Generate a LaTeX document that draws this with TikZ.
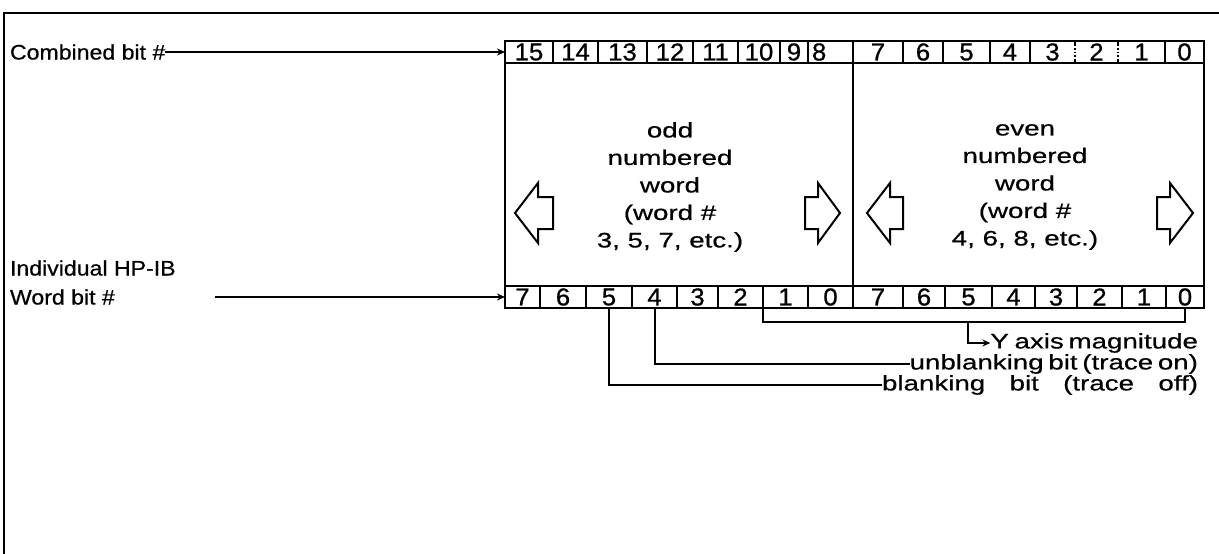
\documentclass[tikz,border=0pt]{standalone}
\usepackage{fontspec}
\setmainfont{Liberation Sans}[FakeStretch=1.1,FakeBold=0.6]
\newfontfamily\widefont{Liberation Sans}[FakeStretch=1.32,FakeBold=0.6]
\newfontfamily\digitfont{Liberation Sans}[FakeStretch=1.05,FakeBold=0.8]
\usetikzlibrary{arrows.meta}
\begin{document}
\begin{tikzpicture}[x=1pt,y=-1pt,
  every node/.style={inner sep=0pt, outer sep=0pt},
  lbl/.style={font=\fontsize{21}{27.5}\selectfont},
  wlbl/.style={font=\widefont\fontsize{21}{27.5}\selectfont},
  cell/.style={draw, line width=2.3pt, minimum height=22pt, font=\digitfont\fontsize{24.5}{27.5}\selectfont, anchor=west},
  wordbox/.style={draw, line width=2.5pt, anchor=north west, minimum height=267pt},
  conn/.style={line width=2pt},
  tipped/.style={-{Stealth[length=8pt,width=7pt]}},
  blk/.style={line width=2pt, line join=miter, fill=white},
]
\useasboundingbox (0,0) rectangle (1219,554);
% outer frame
\draw[line width=2.2pt] (1225,13) -- (4,13) -- (4,560);
% word boxes
\node[wordbox, minimum width=348pt] (oddw) at (505,41) {};
\node[wordbox, minimum width=351pt] (evenw) at (853,41) {};
% top row cells
\foreach \a/\b/\t/\n in {505/553/15/t15, 553/598/14/t14, 598/647/13/t13, 647/693/12/t12,
  693/738/11/t11, 738/780/10/t10, 780/808/9/t9, 808/853//t8,
  853/903/7/t7, 903/943/6/t6, 943/990/5/t5, 990/1030/4/t4,
  1030/1075/3/t3, 1075/1118/2/t2, 1118/1165/1/t1, 1165/1204/0/t0}{
  \pgfmathsetmacro\w{\b-\a}
  \node[cell, minimum width=\w pt] (\n) at (\a,52) {\t};
}
\node[cell, draw=none, minimum width=0pt] (d8) at (812,52) {8};
% broken borders in the printed original
\draw[white, line width=3pt] (1075,44) -- (1075,60) (1118,44) -- (1118,60);
\draw[line width=1.8pt, dotted] (1075,44) -- (1075,60) (1118,44) -- (1118,60);
% bottom row cells
\foreach \a/\b/\t/\n in {505/540/7/lo7, 540/586/6/lo6, 586/632/5/lo5, 632/677/4/lo4,
  677/718/3/lo3, 718/763/2/lo2, 763/808/1/lo1, 808/853/0/lo0,
  853/903/7/ro7, 903/945/6/ro6, 945/992/5/ro5, 992/1035/4/ro4,
  1035/1077/3/ro3, 1077/1122/2/ro2, 1122/1166/1/ro1, 1166/1204/0/ro0}{
  \pgfmathsetmacro\w{\b-\a}
  \node[cell, minimum width=\w pt] (\n) at (\a,297) {\t};
}
% word texts
\node[wlbl, align=center] (oddtxt) at (670,187) {odd\\numbered\\word\\(word \#\\3, 5, 7, etc.)};
\node[wlbl, align=center] (eventxt) at (1025,187) {even\\numbered\\word\\(word \#\\4, 6, 8, etc.)};
% block arrows
\def\ay{213}
\draw[blk] (515,\ay) -- (538,\ay-30) -- (538,\ay-16) -- (553,\ay-16) -- (553,\ay+16) -- (538,\ay+16) -- (538,\ay+30) -- cycle;
\draw[blk] (840,\ay) -- (818,\ay-30) -- (818,\ay-16) -- (805,\ay-16) -- (805,\ay+16) -- (818,\ay+16) -- (818,\ay+30) -- cycle;
\draw[blk] (867,\ay) -- (890,\ay-30) -- (890,\ay-16) -- (903,\ay-16) -- (903,\ay+16) -- (890,\ay+16) -- (890,\ay+30) -- cycle;
\draw[blk] (1193,\ay) -- (1170,\ay-30) -- (1170,\ay-16) -- (1157,\ay-16) -- (1157,\ay+16) -- (1170,\ay+16) -- (1170,\ay+30) -- cycle;
% left labels
\node[lbl, anchor=west] (comb) at (10,52) {Combined bit \#};
\draw[conn, tipped] (comb.east) -- (t15.west);
\node[lbl, anchor=west] (indiv) at (10,268) {Individual HP-IB};
\node[lbl, anchor=west] (wordbit) at (10,297) {Word bit \#};
\coordinate (wbstart) at (215,297);
\draw[conn, tipped] (wbstart) -- (lo7.west);
% right labels
\node[wlbl, anchor=east] (ylab) at (1198,343) {Y\kern-2pt\ axis\kern-3pt\ magnitude};
\node[wlbl, anchor=east] (unb) at (1198,364) {unblanking\kern-3pt\ bit\kern-3pt\ (trace\kern-3pt\ on)};
\node[wlbl, anchor=east] (blk) at (1198,385) {\makebox[316pt][s]{blanking bit (trace off)}};
% connectors
\coordinate (yj) at (968,322);
\draw[conn] (lo1.south west) |- (yj) -| (ro0.south);
\draw[conn, tipped] (yj) |- (ylab.west);
\draw[conn] (lo4.south) |- (unb.west);
\draw[conn] (lo5.south) |- (blk.west);
\end{tikzpicture}
\end{document}
